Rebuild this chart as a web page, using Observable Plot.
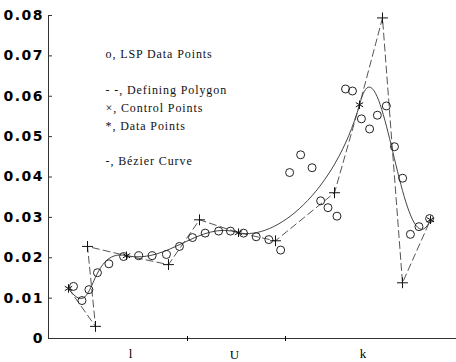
<!DOCTYPE html>
<html><head><meta charset="utf-8">
<script src="https://cdn.jsdelivr.net/npm/d3@7"></script>
<script src="https://cdn.jsdelivr.net/npm/@observablehq/plot@0.6"></script>
<style>
body{margin:0;background:#fff}
g[aria-label="text"] text{font-family:"Liberation Serif","Times New Roman",serif !important;letter-spacing:0.9px}
g.xlab text{font-family:"Liberation Serif","Times New Roman",serif !important}
g[aria-label="y-axis tick label"] text{letter-spacing:1.5px}
</style>
</head><body><div id="chart"></div>
<script>
// Defining polygon: data points (*) and control points (+), in order
const polygonU = [4.90, 11.52, 9.56, 19.12, 29.41, 37.01, 46.57, 55.64, 70.10, 76.23, 81.86, 86.76, 93.63];
const polygonV = [0.0124, 0.0030, 0.0228, 0.0205, 0.0183, 0.0294, 0.0262, 0.0242, 0.0361, 0.0579, 0.0794, 0.0138, 0.0294];
const pointRole = ["data","control","control","data","control","control","data","control","control","data","control","control","data"];

// LSP data points (circles)
const lspU = [6.13, 8.2, 9.9, 12.0, 14.8, 18.4, 22.1, 25.4, 28.9, 32.1, 35.3, 38.4, 41.7, 44.6, 47.8, 50.9, 54.0, 56.9, 59.1, 61.8, 64.6, 66.7, 68.5, 70.7, 72.8, 74.5, 76.7, 78.7, 80.6, 82.8, 84.8, 86.8, 88.7, 90.8, 93.4];
const lspV = [0.0129, 0.0094, 0.0121, 0.0163, 0.0185, 0.0203, 0.0205, 0.0205, 0.0208, 0.0228, 0.0250, 0.0261, 0.0266, 0.0266, 0.0261, 0.0252, 0.0245, 0.0219, 0.0411, 0.0455, 0.0423, 0.0341, 0.0324, 0.0303, 0.0618, 0.0613, 0.0544, 0.0519, 0.0553, 0.0576, 0.0475, 0.0397, 0.0258, 0.0277, 0.0297];

// Axes
const yTicks = [0, 0.01, 0.02, 0.03, 0.04, 0.05, 0.06, 0.07, 0.08];
const xTickPos = [34.07, 58.09];
const xLabels = ["l", "U", "k"];
const xLabelPos = [20.1, 45.6, 77.1];

// Legend (text block inside the plot)
const legendText = ["o, LSP Data Points", "- -, Defining Polygon", "\u00d7, Control Points", "*, Data Points", "-, B\u00e9zier Curve"];
const legendU = [13.97, 13.97, 13.97, 13.97, 13.97];
const legendV = [0.0704, 0.0616, 0.0571, 0.0526, 0.0439];

// piecewise cubic Bézier curve: P0 C C P1 C C P2 ...
function bezierCurve(context) {
  let pts = [];
  return {
    areaStart() {}, areaEnd() {},
    lineStart() { pts = []; },
    lineEnd() {
      if (!pts.length) return;
      context.moveTo(pts[0][0], pts[0][1]);
      for (let i = 1; i + 2 < pts.length; i += 3)
        context.bezierCurveTo(pts[i][0], pts[i][1], pts[i+1][0], pts[i+1][1], pts[i+2][0], pts[i+2][1]);
    },
    point(x, y) { pts.push([+x, +y]); }
  };
}

const poly = polygonU.map((u, i) => ({u, v: polygonV[i], role: pointRole[i]}));
const lsp = lspU.map((u, i) => ({u, v: lspV[i]}));
const legend = legendText.map((t, i) => ({t, u: legendU[i], v: legendV[i]}));
const labelOf = new Map(xLabelPos.map((p, i) => [p, xLabels[i]]));

const chart = Plot.plot({
  width: 456, height: 362,
  marginLeft: 48, marginRight: 0, marginTop: 15, marginBottom: 24,
  style: {background: "#fff", overflow: "visible"},
  x: {domain: [0, 100]},
  y: {domain: [0, 0.08]},
  marks: [
    Plot.ruleY([0], {stroke: "#333"}),
    Plot.ruleX([0], {stroke: "#333"}),
    Plot.axisY(yTicks, {anchor: "left", tickSize: -4, tickPadding: 8.5, label: null,
      tickFormat: d => d === 0 ? "0" : d.toFixed(2),
      fontFamily: "DejaVu Sans", fontWeight: "bold", fontSize: 14, stroke: "#333"}),
    Plot.axisX(xTickPos, {anchor: "bottom", tickSize: 3, tickFormat: () => "", label: null}),
    Plot.axisX(xTickPos, {anchor: "bottom", tickSize: -2, tickFormat: () => "", label: null}),
    Plot.axisX([xLabelPos[0], xLabelPos[2]], {anchor: "bottom", tickSize: 0, tickPadding: 10, label: null,
      tickFormat: d => labelOf.get(d), fontSize: 13, fontFamily: "Liberation Serif"}),
    Plot.axisX([xLabelPos[1]], {anchor: "bottom", tickSize: 0, tickPadding: 11.5, label: null,
      tickFormat: d => labelOf.get(d), fontSize: 13, fontFamily: "Liberation Serif"}),
    Plot.line(poly, {x: "u", y: "v", stroke: "#555", strokeWidth: 1, strokeDasharray: "7,4"}),
    Plot.line(poly, {x: "u", y: "v", curve: bezierCurve, stroke: "#444", strokeWidth: 1}),
    Plot.dot(lsp, {x: "u", y: "v", symbol: "circle", r: 4, stroke: "#222", fill: "none", strokeWidth: 1}),
    Plot.dot(poly.filter(d => d.role === "control"), {x: "u", y: "v", symbol: "plus", r: 3.6, stroke: "#111", strokeWidth: 1}),
    Plot.dot(poly.filter(d => d.role === "data"), {x: "u", y: "v", symbol: "asterisk", r: 4, stroke: "#111", strokeWidth: 1}),
    Plot.text(legend, {x: "u", y: "v", text: "t", textAnchor: "start", lineAnchor: "middle",
      fontSize: 12, fontFamily: "Liberation Serif", fill: "#111"})
  ]
});
document.getElementById("chart").appendChild(chart);
</script>
</body></html>
